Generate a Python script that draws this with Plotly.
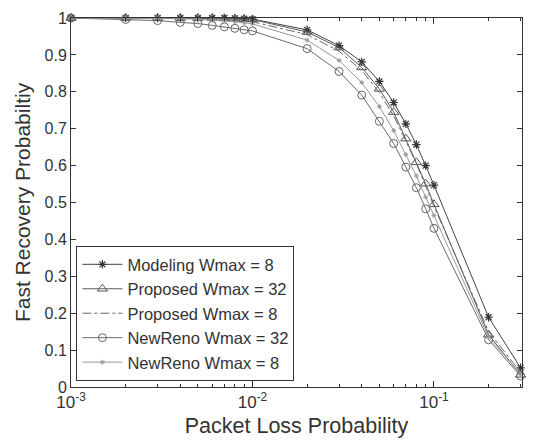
import plotly.graph_objects as go

loss_prob = [0.001, 0.002, 0.003, 0.004, 0.005, 0.006, 0.007, 0.008, 0.009, 0.01,
             0.02, 0.03, 0.04, 0.05, 0.06, 0.07, 0.08, 0.09, 0.1, 0.2, 0.3]

modeling_w8 = [1, 1, 1, 1, 1, 1, 1, 0.999, 0.998, 0.997,
               0.968, 0.925, 0.881, 0.828, 0.771, 0.713, 0.657, 0.600, 0.547, 0.189, 0.052]
proposed_w32 = [1, 1, 1, 1, 1, 1, 0.999, 0.998, 0.997, 0.996,
                0.962, 0.920, 0.866, 0.808, 0.745, 0.673, 0.609, 0.551, 0.495, 0.142, 0.033]
proposed_w8 = [1, 1, 1, 1, 1, 0.999, 0.998, 0.996, 0.994, 0.990,
               0.955, 0.910, 0.858, 0.798, 0.735, 0.667, 0.605, 0.545, 0.490, 0.150, 0.040]
newreno_w32 = [1, 0.996, 0.993, 0.988, 0.985, 0.980, 0.976, 0.972, 0.968, 0.965,
               0.917, 0.855, 0.791, 0.720, 0.660, 0.596, 0.540, 0.483, 0.430, 0.128, 0.030]
newreno_w8 = [1, 1, 0.999, 0.998, 0.997, 0.995, 0.993, 0.990, 0.987, 0.984,
              0.940, 0.885, 0.825, 0.760, 0.695, 0.630, 0.572, 0.515, 0.465, 0.135, 0.035]

x_tickvals = [0.001, 0.01, 0.1]
x_ticktext = ["10<sup>-3</sup>", "10<sup>-2</sup>", "10<sup>-1</sup>"]
x_minor = [0.002, 0.003, 0.004, 0.005, 0.006, 0.007, 0.008, 0.009,
           0.02, 0.03, 0.04, 0.05, 0.06, 0.07, 0.08, 0.09, 0.2, 0.3]
y_tickvals = [0, 0.1, 0.2, 0.3, 0.4, 0.5, 0.6, 0.7, 0.8, 0.9, 1]
y_ticktext = ["0", "0.1", "0.2", "0.3", "0.4", "0.5", "0.6", "0.7", "0.8", "0.9", "1"]

fig = go.Figure()
fig.add_trace(go.Scatter(
    x=loss_prob, y=modeling_w8, name="Modeling Wmax = 8", mode="lines+markers",
    line=dict(color="#444", width=1),
    marker=dict(symbol="asterisk-open", size=7, color="#333", line=dict(width=1.2, color="#333")),
    cliponaxis=False))
fig.add_trace(go.Scatter(
    x=loss_prob, y=proposed_w32, name="Proposed Wmax = 32", mode="lines+markers",
    line=dict(color="#5a5a5a", width=1),
    marker=dict(symbol="triangle-up-open", size=9, color="#555", line=dict(width=1, color="#555")),
    cliponaxis=False))
fig.add_trace(go.Scatter(
    x=loss_prob, y=proposed_w8, name="Proposed Wmax = 8", mode="lines",
    line=dict(color="#666", width=1, dash="dashdot"),
    cliponaxis=False))
fig.add_trace(go.Scatter(
    x=loss_prob, y=newreno_w32, name="NewReno Wmax = 32", mode="lines+markers",
    line=dict(color="#6a6a6a", width=1),
    marker=dict(symbol="circle-open", size=8, color="#666", line=dict(width=1, color="#666")),
    cliponaxis=False))
fig.add_trace(go.Scatter(
    x=loss_prob, y=newreno_w8, name="NewReno Wmax = 8", mode="lines+markers",
    line=dict(color="#999", width=1),
    marker=dict(symbol="asterisk-open", size=4, color="#999", line=dict(width=1, color="#999")),
    cliponaxis=False))

fig.update_layout(
    width=533, height=443,
    margin=dict(l=71, r=10, t=13, b=54),
    paper_bgcolor="white", plot_bgcolor="white",
    font=dict(family="Liberation Sans, Arial, sans-serif", size=16, color="#333"),
    showlegend=True,
    legend=dict(x=0.012, y=0.016, xanchor="left", yanchor="bottom",
                bordercolor="#333", borderwidth=1, bgcolor="white",
                font=dict(size=16.5, color="#333"), tracegroupgap=0, itemwidth=40),
)
fig.update_xaxes(
    type="log", range=[-3, -0.515],
    tickvals=x_tickvals, ticktext=x_ticktext,
    ticks="inside", ticklen=6, tickcolor="#333",
    minor=dict(tickvals=x_minor, ticks="inside", ticklen=3, tickcolor="#333"),
    showline=True, linecolor="#333", linewidth=1, mirror="ticks",
    showgrid=False, zeroline=False,
    tickfont=dict(size=17),
    title=dict(text="Packet Loss Probability", font=dict(size=21.5), standoff=6),
)
fig.update_yaxes(
    range=[0, 1],
    tickvals=y_tickvals, ticktext=y_ticktext,
    ticks="inside", ticklen=5, tickcolor="#333",
    showline=True, linecolor="#333", linewidth=1, mirror="ticks",
    showgrid=False, zeroline=False,
    tickfont=dict(size=16),
    title=dict(text="Fast Recovery Probabiltiy", font=dict(size=21), standoff=8),
)

fig.write_html("out.html")
